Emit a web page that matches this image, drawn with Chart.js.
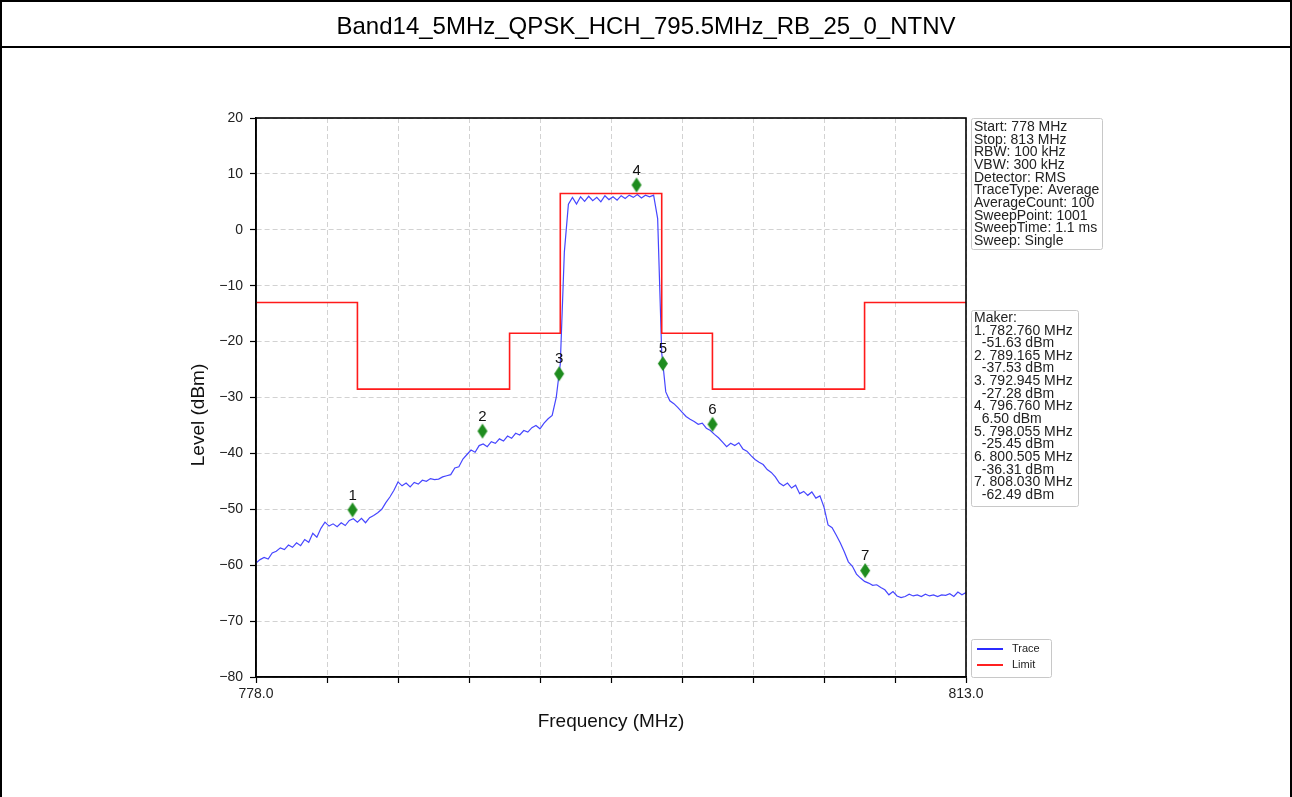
<!DOCTYPE html>
<html>
<head>
<meta charset="utf-8">
<script src="https://cdn.jsdelivr.net/npm/chart.js@4.4.1/dist/chart.umd.min.js"></script>
<style>
  html, body { margin: 0; padding: 0; background: #fff; }
  #page { position: relative; width: 1292px; height: 797px; overflow: hidden; }
  #frame { position: absolute; left: 0; top: 0; width: 1292px; height: 800px; box-sizing: border-box;
           border: 2px solid #000; pointer-events: none; }
  #title { position: absolute; left: 0; top: 0; width: 1292px; height: 48px; box-sizing: border-box;
           border-bottom: 2px solid #000; font: 24px "Liberation Sans", Arial, sans-serif; color: #000;
           text-align: center; line-height: 52px; }
  canvas { position: absolute; left: 0; top: 0; }
</style>
</head>
<body>
<div id="page">
  <canvas id="chart" width="1292" height="797"></canvas>
  <div id="title">Band14_5MHz_QPSK_HCH_795.5MHz_RB_25_0_NTNV</div>
  <div id="frame"></div>
</div>
<script>
// sweep: 778 MHz .. 813 MHz, one reading every 0.2 MHz
const traceStart = 778;
const traceStep = 0.2;
const traceLevel = [
  -59.6, -59.0, -58.6, -58.9, -57.8, -57.5, -56.9, -57.2, -56.4, -56.8,
  -56.0, -56.5, -55.4, -55.9, -54.3, -55.0, -53.4, -52.3, -53.0, -52.6,
  -53.1, -52.4, -52.9, -52.0, -51.7, -52.3, -51.6, -52.4, -51.5, -51.1,
  -50.6, -50.0, -48.8, -47.8, -46.6, -45.1, -45.8, -45.3, -46.0, -45.2,
  -45.5, -44.8, -45.0, -44.5, -44.7, -44.6, -44.2, -44.0, -43.8, -42.6,
  -42.4, -41.0, -40.2, -39.4, -39.8, -38.6, -38.3, -38.8, -37.9, -38.2,
  -37.4, -37.8, -36.9, -37.3, -36.4, -36.7, -35.9, -36.2, -35.4, -35.0,
  -35.6, -34.6, -33.8, -33.2, -30.0, -24.0, -4.0, 4.6, 5.8, 4.6,
  5.9, 5.1, 6.0, 5.2, 5.8, 5.0, 6.1, 5.4, 5.9, 5.3,
  6.1, 5.6, 6.2, 5.8, 6.3, 5.7, 6.2, 5.9, 6.2, 2.0,
  -22.0, -29.0, -30.6, -31.1, -31.8, -32.6, -33.4, -33.9, -34.3, -34.8,
  -34.6, -35.5, -35.9, -36.6, -37.2, -38.0, -38.8, -38.2, -38.6, -38.1,
  -39.2, -39.6, -40.4, -41.1, -41.6, -42.0, -42.9, -43.4, -44.2, -45.3,
  -45.8, -45.3, -46.2, -45.7, -47.2, -46.8, -47.5, -46.9, -48.0, -47.6,
  -49.6, -52.8, -53.3, -54.6, -56.0, -57.6, -59.4, -60.2, -61.6, -62.3,
  -62.9, -63.2, -63.6, -63.5, -64.0, -64.4, -65.3, -64.7, -65.5, -65.8,
  -65.6, -65.2, -65.5, -65.3, -65.6, -65.2, -65.5, -65.3, -65.6, -65.3,
  -65.4, -65.1, -65.6, -64.8, -65.3, -64.9
];

// limit mask corners (stepped)
const limitFreq = [778, 783, 790.5, 793, 798, 800.5, 808, 813];
const limitLevel = [-13, -28.5, -18.5, 6.5, -18.5, -28.5, -13, -13];

// markers
const markerFreq = [782.760, 789.165, 792.945, 796.760, 798.055, 800.505, 808.030];
const markerLevel = [-51.63, -37.53, -27.28, 6.50, -25.45, -36.31, -62.49];

const yTicks = [20, 10, 0, -10, -20, -30, -40, -50, -60, -70, -80];

const infoLines = [
  "Start: 778 MHz", "Stop: 813 MHz", "RBW: 100 kHz", "VBW: 300 kHz", "Detector: RMS",
  "TraceType: Average", "AverageCount: 100", "SweepPoint: 1001", "SweepTime: 1.1 ms", "Sweep: Single"
];

const FONT = '"Liberation Sans", Arial, sans-serif';
const minus = (s) => String(s).replace("-", "\u2212");

const traceData = traceLevel.map((v, i) => ({ x: +(traceStart + i * traceStep).toFixed(2), y: v }));
const limitData = limitFreq.map((f, i) => ({ x: f, y: limitLevel[i] }));
const markerData = markerFreq.map((f, i) => ({ x: f, y: markerLevel[i] }));

// diamond sitting a little above its point, like the analyzer's marker glyph
function diamondGlyph() {
  const c = document.createElement("canvas");
  c.width = 12; c.height = 34;
  const g = c.getContext("2d");
  g.fillStyle = "#1e8c1e";
  g.beginPath();
  g.moveTo(6, 1); g.lineTo(11, 8.5); g.lineTo(6, 16); g.lineTo(1, 8.5);
  g.closePath(); g.fill();
  return c;
}

const overlay = {
  id: "overlay",
  afterDatasetsDraw(chart) {
    const { ctx, chartArea: a } = chart;
    ctx.save();
    // plot frame
    ctx.strokeStyle = "#000";
    ctx.lineWidth = 1.6;
    ctx.strokeRect(a.left, a.top, a.right - a.left, a.bottom - a.top);

    // marker numbers
    const meta = chart.getDatasetMeta(2);
    ctx.fillStyle = "#111";
    ctx.font = "15px " + FONT;
    ctx.textAlign = "center";
    ctx.textBaseline = "middle";
    meta.data.forEach((pt, i) => ctx.fillText(String(i + 1), pt.x, pt.y - 23));

    // y axis title, sits a bit below the middle in the reference
    ctx.save();
    ctx.translate(199, 415);
    ctx.rotate(-Math.PI / 2);
    ctx.font = "19px " + FONT;
    ctx.fillText("Level (dBm)", 0, 0);
    ctx.restore();

    // side boxes
    const box = (x, y, w, h) => {
      ctx.strokeStyle = "#c8c8c8";
      ctx.lineWidth = 1;
      ctx.beginPath();
      ctx.roundRect(x + 0.5, y + 0.5, w, h, 2);
      ctx.stroke();
    };
    const x0 = a.right + 5;
    ctx.fillStyle = "#222";
    ctx.font = "14px " + FONT;
    ctx.textAlign = "left";
    ctx.textBaseline = "middle";

    box(x0, a.top, 131, 131);
    infoLines.forEach((t, i) => ctx.fillText(t, x0 + 3, a.top + 9 + i * 12.7));

    const mk = ["Maker:"];
    markerFreq.forEach((f, i) => {
      mk.push((i + 1) + ". " + f.toFixed(3) + " MHz");
      mk.push("  " + markerLevel[i].toFixed(2) + " dBm");
    });
    box(x0, 310, 107, 196);
    mk.forEach((t, i) => ctx.fillText(t, x0 + 3, 318 + i * 12.65));

    // legend
    box(x0, 639, 80, 38);
    ctx.lineWidth = 2;
    ctx.strokeStyle = "#2b2bff";
    ctx.beginPath(); ctx.moveTo(x0 + 6, 649); ctx.lineTo(x0 + 32, 649); ctx.stroke();
    ctx.strokeStyle = "#ff2020";
    ctx.beginPath(); ctx.moveTo(x0 + 6, 665); ctx.lineTo(x0 + 32, 665); ctx.stroke();
    ctx.fillStyle = "#222";
    ctx.font = "11px " + FONT;
    ctx.fillText("Trace", x0 + 41, 649);
    ctx.fillText("Limit", x0 + 41, 665);
    ctx.restore();
  }
};

new Chart(document.getElementById("chart"), {
  type: "line",
  data: {
    datasets: [
      {
        label: "Trace",
        data: traceData,
        borderColor: "#4646ff",
        borderWidth: 1.2,
        pointRadius: 0,
        tension: 0,
        order: 2,
      },
      {
        label: "Limit",
        data: limitData,
        borderColor: "#ff1a1a",
        borderWidth: 1.6,
        pointRadius: 0,
        stepped: true,
        order: 1,
      },
      {
        label: "Marker",
        data: markerData,
        showLine: false,
        pointStyle: diamondGlyph(),
        pointRadius: 6,
        order: 0,
      },
    ],
  },
  options: {
    responsive: false,
    animation: false,
    layout: { padding: { left: 185, top: 118, right: 326, bottom: 60 } },
    plugins: { legend: { display: false }, tooltip: { enabled: false } },
    scales: {
      x: {
        type: "linear",
        min: 778,
        max: 813,
        afterFit: (s) => { s.height = 60; },
        ticks: {
          stepSize: 3.5,
          color: "#222",
          font: { family: FONT, size: 14 },
          padding: 3,
          maxRotation: 0,
          autoSkip: false,
          callback: (v) => (v === 778 || v === 813 ? v.toFixed(1) : ""),
        },
        grid: { color: "#d2d2d2", lineWidth: 1, tickLength: 6, tickColor: "#000", tickWidth: 1.2, tickBorderDash: [] },
        border: { color: "#000", width: 1.6, dash: [5, 3] },
        title: { display: true, text: "Frequency (MHz)", color: "#111", font: { family: FONT, size: 19 }, padding: 4 },
      },
      y: {
        min: -80,
        max: 20,
        afterFit: (s) => { s.width = 71; },
        afterBuildTicks: (s) => { s.ticks = yTicks.map((v) => ({ value: v })); },
        ticks: {
          color: "#222",
          font: { family: FONT, size: 14 },
          padding: 7,
          callback: (v) => minus(v),
        },
        grid: { color: "#d2d2d2", lineWidth: 1, tickLength: 6, tickColor: "#000", tickWidth: 1.2, tickBorderDash: [] },
        border: { color: "#000", width: 1.6, dash: [5, 3] },
        title: { display: false },
      },
    },
  },
  plugins: [overlay],
});
</script>
</body>
</html>
